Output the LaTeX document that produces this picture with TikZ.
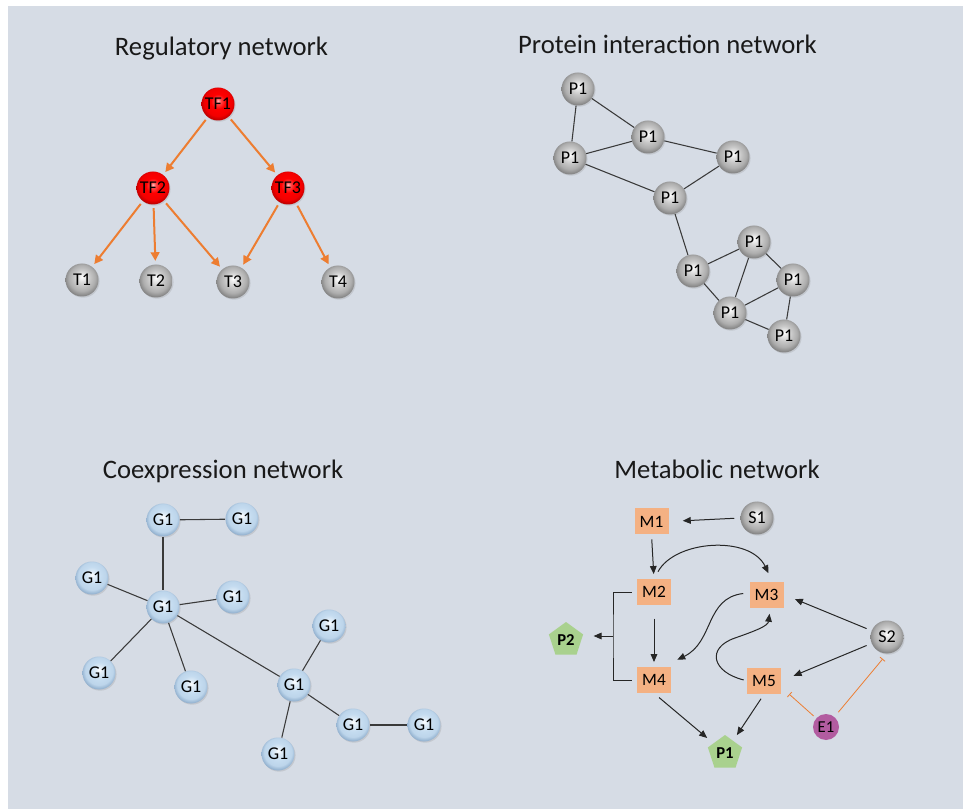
\documentclass[tikz,border=0pt]{standalone}
\usepackage{fontspec}
\setmainfont{Carlito}
\usetikzlibrary{arrows.meta,shapes.geometric,calc,shadows}
\definecolor{bgc}{HTML}{D6DCE5}
\definecolor{orarr}{HTML}{ED7D31}
\definecolor{boxc}{HTML}{F4B183}
\definecolor{pentc}{HTML}{A9D18E}
\definecolor{enzc}{RGB}{178,92,160}
\definecolor{sphb}{HTML}{C5DCF0}
\definecolor{sphbr}{HTML}{8EADCC}
\definecolor{edgec}{HTML}{3A3A3A}
\pgfdeclareradialshading{graysph}{\pgfpoint{0bp}{5bp}}{color(0bp)=(white); color(3bp)=(black!6); color(12bp)=(black!22); color(20bp)=(black!32); color(27bp)=(black!50); color(50bp)=(black!50)}
\pgfdeclareradialshading{redsph}{\pgfpoint{0bp}{5bp}}{color(0bp)=(red!25!white); color(4bp)=(red!70!white); color(11bp)=(red); color(21bp)=(red!95!black); color(27bp)=(red!72!black); color(50bp)=(red!72!black)}
\pgfdeclareradialshading{bluesph}{\pgfpoint{0bp}{5bp}}{color(0bp)=(white); color(4bp)=(sphb!45!white); color(13bp)=(sphb); color(21bp)=(sphb!85!sphbr); color(27bp)=(sphbr); color(50bp)=(sphbr)}
\begin{document}
\begin{tikzpicture}[x=0.75pt,y=-0.75pt,
  title/.style={font=\fontsize{20}{24}\selectfont, anchor=base, text=black!90},
  sph/.style={circle, minimum size=24.75pt, inner sep=0pt, font=\fontsize{13.5}{15}\selectfont, text=black,
    drop shadow={shadow xshift=0.8pt, shadow yshift=-0.9pt, opacity=0.22}},
  gsph/.style={sph, shading=graysph},
  rsph/.style={sph, shading=redsph},
  bsph/.style={sph, shading=bluesph},
  oarr/.style={orarr, line width=1.5pt, -{Triangle[length=6.5pt,width=6.5pt]}, shorten <=2.5pt, shorten >=2.5pt},
  pedge/.style={edgec, line width=0.8pt},
  mbox/.style={rectangle, fill=boxc, minimum width=25.5pt, minimum height=19.5pt, inner sep=0pt, font=\fontsize{13}{15}\selectfont, text=black},
  pent/.style={regular polygon, regular polygon sides=5, minimum size=27pt, inner sep=0pt, fill=pentc, font=\bfseries\fontsize{12.5}{14}\selectfont, text=black},
  marr/.style={black!85, line width=0.75pt, -{Triangle[length=6pt,width=5pt]}},
  mline/.style={black!85, line width=0.75pt},
  inh/.style={orarr, line width=0.6pt, -{Bar[width=5pt]}}
]
\useasboundingbox (0,0) rectangle (965,809);
\fill[bgc] (8,6) rectangle (963,809);

% titles
\node[title] (tr) at (221.5,56) {Regulatory network};
\node[title] (tp) at (667.5,54) {Protein interaction network};
\node[title] (tc) at (223,479) {Coexpression network};
\node[title] (tm) at (717,479) {Metabolic network};

% regulatory network
\node[rsph] (TF1) at (218,104) {TF1};
\node[rsph] (TF2) at (153,188) {TF2};
\node[rsph] (TF3) at (288,188) {TF3};
\node[gsph] (T1) at (82,280) {T1};
\node[gsph] (T2) at (156,281) {T2};
\node[gsph] (T3) at (233,282) {T3};
\node[gsph] (T4) at (338,282) {T4};
\draw[oarr] (TF1) -- (TF2);
\draw[oarr] (TF1) -- (TF3);
\draw[oarr] (TF2) -- (T1);
\draw[oarr] (TF2) -- (T2);
\draw[oarr] (TF2) -- (T3);
\draw[oarr] (TF3) -- (T3);
\draw[oarr] (TF3) -- (T4);

% protein interaction network
\node[gsph] (pa) at (578,89) {P1};
\node[gsph] (pb) at (648,137) {P1};
\node[gsph] (pc) at (570,158) {P1};
\node[gsph] (pd) at (733,157) {P1};
\node[gsph] (pe) at (670,198) {P1};
\node[gsph] (pf) at (693,271) {P1};
\node[gsph] (pg) at (754,242) {P1};
\node[gsph] (ph) at (793,280) {P1};
\node[gsph] (pi) at (730,313) {P1};
\node[gsph] (pj) at (784,336) {P1};
\draw[pedge] (pa) -- (pb);
\draw[pedge] (pa) -- (pc);
\draw[pedge] (pc) -- (pb);
\draw[pedge] (pb) -- (pd);
\draw[pedge] (pc) -- (pe);
\draw[pedge] (pd) -- (pe);
\draw[pedge] (pe) -- (pf);
\draw[pedge] (pf) -- (pg);
\draw[pedge] (pf) -- (pi);
\draw[pedge] (pg) -- (pi);
\draw[pedge] (pg) -- (ph);
\draw[pedge] (pi) -- (ph);
\draw[pedge] (pi) -- (pj);
\draw[pedge] (ph) -- (pj);

% coexpression network
\node[bsph] (ga) at (163,520) {G1};
\node[bsph] (gb) at (242,519) {G1};
\node[bsph] (gc) at (92,578) {G1};
\node[bsph] (gd) at (163,607) {G1};
\node[bsph] (ge) at (233,597) {G1};
\node[bsph] (gf) at (99,673) {G1};
\node[bsph] (gg) at (191,687) {G1};
\node[bsph] (gh) at (329,626) {G1};
\node[bsph] (gi) at (294,685) {G1};
\node[bsph] (gj) at (353,725) {G1};
\node[bsph] (gk) at (424,725) {G1};
\node[bsph] (gl) at (278,754) {G1};
\draw[pedge] (ga) -- (gb);
\draw[pedge] (ga) -- (gd);
\draw[pedge] (gc) -- (gd);
\draw[pedge] (gd) -- (ge);
\draw[pedge] (gd) -- (gf);
\draw[pedge] (gd) -- (gg);
\draw[pedge] (gd) -- (gi);
\draw[pedge] (gi) -- (gh);
\draw[pedge] (gi) -- (gj);
\draw[pedge] (gj) -- (gk);
\draw[pedge] (gi) -- (gl);

% metabolic network
\node[mbox] (M1) at (651.5,521.5) {M1};
\node[gsph] (S1) at (757,518) {S1};
\node[mbox] (M2) at (654,592) {M2};
\node[mbox] (M3) at (766.5,594.5) {M3};
\node[pent] (P2) at (566,640) {P2};
\node[mbox] (M4) at (654,680) {M4};
\node[mbox] (M5) at (764,681) {M5};
\node[gsph] (S2) at (887,637) {S2};
\node[circle, fill=enzc, minimum size=19.5pt, inner sep=0pt, font=\fontsize{12.5}{14}\selectfont, text=black] (E1) at (826,727) {E1};
\node[pent] (P1) at (725,753) {P1};
\coordinate (bj) at (613,636);

\draw[marr, shorten <=4.5pt, shorten >=10.5pt] (S1.west) -- (M1.east);
\draw[marr, shorten <=3.5pt, shorten >=3.5pt] (M1.south) -- (M2.north);
\draw[marr] ($(M2.north)+(4,-7)$) .. controls (675,540) and (750,535) .. ($(M3.north)+(2,-8)$);
\draw[marr, shorten <=10pt, shorten >=3.5pt] (M2.south) -- (M4.north);
\draw[marr] ($(M3.west)+(-6,-1)$) .. controls (705,598) and (714,642) .. ($(M4.north east)+(6,-7)$);
\draw[marr] ($(M5.west)+(-3,-1)$) .. controls (712,672) and (706,648) .. (735,638) .. controls (755,631) and (768,626) .. ($(M3.south)+(3,6)$);
\draw[marr, shorten <=4pt, shorten >=9pt] (S2) -- (M3.east);
\draw[marr, shorten <=4pt, shorten >=10pt] (S2) -- (M5.east);
\draw[marr, shorten <=5pt, shorten >=6pt] (M4.south) -- (P1);
\draw[marr, shorten <=4pt, shorten >=5pt] (M5.south) -- (P1);
\draw[mline] ($(M2.west)+(-5,0)$) -| (bj) |- ($(M4.west)+(-5,0)$);
\draw[marr, shorten >=9pt] (bj) -- (bj -| P2.east);
\draw[inh, shorten <=2.5pt] (E1) -- ($(M5.south east)+(8,0)$);
\draw[inh, shorten <=4.5pt, shorten >=5pt] (E1) -- (S2.south);
\end{tikzpicture}
\end{document}
